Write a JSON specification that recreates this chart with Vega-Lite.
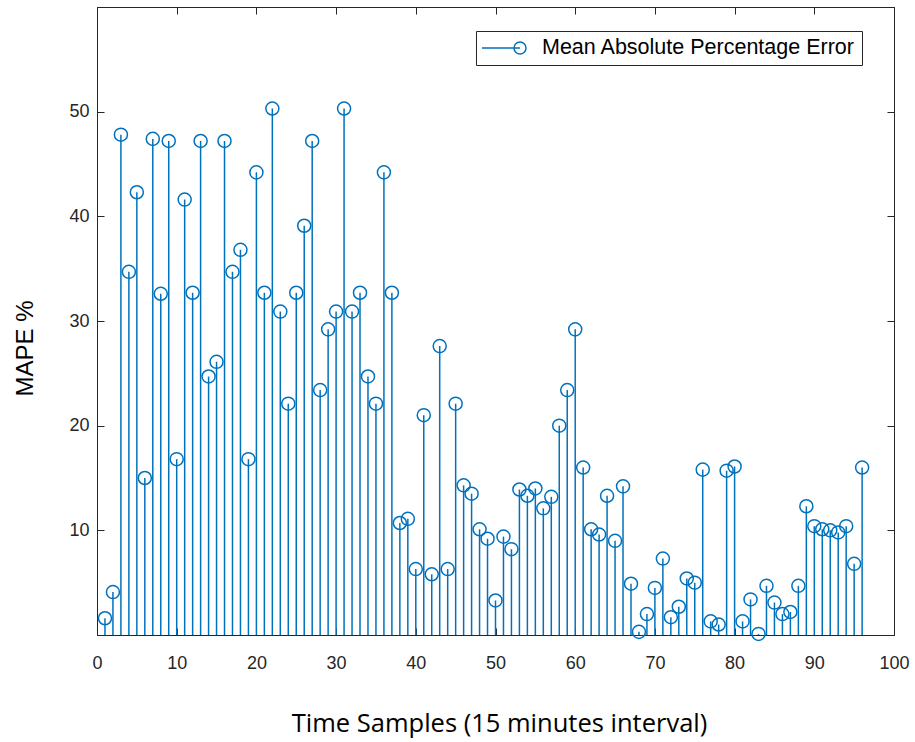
{
  "$schema": "https://vega.github.io/schema/vega-lite/v6.json",
  "width": 797,
  "height": 628,
  "autosize": {"type": "none"},
  "padding": {"left": 97, "top": 7, "right": 21, "bottom": 107},
  "background": "white",
  "config": {
    "view": {"stroke": "#262626", "strokeWidth": 1},
    "axis": {
      "grid": false,
      "domainColor": "#262626",
      "tickColor": "#262626",
      "labelColor": "#262626",
      "titleColor": "#262626",
      "labelFont": "Liberation Sans",
      "labelFontSize": 18,
      "labelFontWeight": "normal",
      "labelFlush": false,
      "labelOverlap": false,
      "tickSize": -7,
      "tickWidth": 1,
      "domainWidth": 1
    }
  },
  "data": {
    "values": [
      {"t": 1, "mape": 1.6}, {"t": 2, "mape": 4.1}, {"t": 3, "mape": 47.8}, {"t": 4, "mape": 34.7},
      {"t": 5, "mape": 42.3}, {"t": 6, "mape": 15.0}, {"t": 7, "mape": 47.4}, {"t": 8, "mape": 32.6},
      {"t": 9, "mape": 47.2}, {"t": 10, "mape": 16.8}, {"t": 11, "mape": 41.6}, {"t": 12, "mape": 32.7},
      {"t": 13, "mape": 47.2}, {"t": 14, "mape": 24.7}, {"t": 15, "mape": 26.1}, {"t": 16, "mape": 47.2},
      {"t": 17, "mape": 34.7}, {"t": 18, "mape": 36.8}, {"t": 19, "mape": 16.8}, {"t": 20, "mape": 44.2},
      {"t": 21, "mape": 32.7}, {"t": 22, "mape": 50.3}, {"t": 23, "mape": 30.9}, {"t": 24, "mape": 22.1},
      {"t": 25, "mape": 32.7}, {"t": 26, "mape": 39.1}, {"t": 27, "mape": 47.2}, {"t": 28, "mape": 23.4},
      {"t": 29, "mape": 29.2}, {"t": 30, "mape": 30.9}, {"t": 31, "mape": 50.3}, {"t": 32, "mape": 30.9},
      {"t": 33, "mape": 32.7}, {"t": 34, "mape": 24.7}, {"t": 35, "mape": 22.1}, {"t": 36, "mape": 44.2},
      {"t": 37, "mape": 32.7}, {"t": 38, "mape": 10.7}, {"t": 39, "mape": 11.1}, {"t": 40, "mape": 6.3},
      {"t": 41, "mape": 21.0}, {"t": 42, "mape": 5.8}, {"t": 43, "mape": 27.6}, {"t": 44, "mape": 6.3},
      {"t": 45, "mape": 22.1}, {"t": 46, "mape": 14.3}, {"t": 47, "mape": 13.5}, {"t": 48, "mape": 10.1},
      {"t": 49, "mape": 9.2}, {"t": 50, "mape": 3.3}, {"t": 51, "mape": 9.4}, {"t": 52, "mape": 8.2},
      {"t": 53, "mape": 13.9}, {"t": 54, "mape": 13.3}, {"t": 55, "mape": 14.0}, {"t": 56, "mape": 12.1},
      {"t": 57, "mape": 13.2}, {"t": 58, "mape": 20.0}, {"t": 59, "mape": 23.4}, {"t": 60, "mape": 29.2},
      {"t": 61, "mape": 16.0}, {"t": 62, "mape": 10.1}, {"t": 63, "mape": 9.6}, {"t": 64, "mape": 13.3},
      {"t": 65, "mape": 9.0}, {"t": 66, "mape": 14.2}, {"t": 67, "mape": 4.9}, {"t": 68, "mape": 0.3},
      {"t": 69, "mape": 2.0}, {"t": 70, "mape": 4.5}, {"t": 71, "mape": 7.3}, {"t": 72, "mape": 1.7},
      {"t": 73, "mape": 2.7}, {"t": 74, "mape": 5.4}, {"t": 75, "mape": 5.0}, {"t": 76, "mape": 15.8},
      {"t": 77, "mape": 1.3}, {"t": 78, "mape": 1.0}, {"t": 79, "mape": 15.7}, {"t": 80, "mape": 16.1},
      {"t": 81, "mape": 1.3}, {"t": 82, "mape": 3.4}, {"t": 83, "mape": 0.1}, {"t": 84, "mape": 4.7},
      {"t": 85, "mape": 3.1}, {"t": 86, "mape": 2.0}, {"t": 87, "mape": 2.2}, {"t": 88, "mape": 4.7},
      {"t": 89, "mape": 12.3}, {"t": 90, "mape": 10.4}, {"t": 91, "mape": 10.1}, {"t": 92, "mape": 10.0},
      {"t": 93, "mape": 9.8}, {"t": 94, "mape": 10.4}, {"t": 95, "mape": 6.8}, {"t": 96, "mape": 16.0}
    ]
  },
  "layer": [
    {
      "mark": {"type": "rule", "color": "#0072BD", "strokeWidth": 1.5},
      "encoding": {
        "x": {
          "field": "t", "type": "quantitative",
          "scale": {"domain": [0, 100], "nice": false},
          "axis": {
            "orient": "bottom",
            "values": [0, 10, 20, 30, 40, 50, 60, 70, 80, 90, 100],
            "labelPadding": 26,
            "title": "Time Samples (15 minutes interval)",
            "titleFont": "Open Sans",
            "titleFontSize": 25.5,
            "titleFontWeight": "normal",
            "titleColor": "#000000",
            "titleBaseline": "middle",
            "titleY": 88,
            "titleX": 402
          }
        },
        "y": {
          "field": "mape", "type": "quantitative",
          "scale": {"domain": [0, 60], "nice": false},
          "axis": {
            "orient": "left",
            "values": [10, 20, 30, 40, 50],
            "labelPadding": 15,
            "title": "MAPE %",
            "titleFont": "Liberation Sans",
            "titleFontSize": 24,
            "titleFontWeight": "normal",
            "titleColor": "#000000",
            "titleAngle": -90,
            "titleAlign": "center",
            "titleBaseline": "middle",
            "titleX": -72,
            "titleY": 341
          }
        },
        "y2": {"datum": 0}
      }
    },
    {
      "mark": {"type": "point", "shape": "circle", "filled": false, "size": 170, "strokeWidth": 1.5, "opacity": 1},
      "encoding": {
        "x": {
          "field": "t", "type": "quantitative",
          "scale": {"domain": [0, 100], "nice": false},
          "axis": {"orient": "top", "values": [0, 10, 20, 30, 40, 50, 60, 70, 80, 90, 100], "labels": false, "title": null}
        },
        "y": {
          "field": "mape", "type": "quantitative",
          "scale": {"domain": [0, 60], "nice": false},
          "axis": {"orient": "right", "values": [10, 20, 30, 40, 50], "labels": false, "title": null}
        },
        "color": {
          "datum": "Mean Absolute Percentage Error",
          "scale": {"range": ["#0072BD"]},
          "legend": {
            "orient": "none",
            "legendX": 379,
            "legendY": 24,
            "title": null,
            "symbolType": "M-1.1,0H2.7M3.3,0A0.6,0.6,0,1,0,2.1,0A0.6,0.6,0,1,0,3.3,0",
            "symbolSize": 400,
            "symbolStrokeWidth": 1.5,
            "symbolStrokeColor": "#0072BD",
            "symbolFillColor": "transparent",
            "labelFont": "Liberation Sans",
            "labelFontSize": 21.5,
            "labelColor": "#000000",
            "labelOffset": 38,
            "labelLimit": 0,
            "padding": 6,
            "strokeColor": "#262626",
            "fillColor": "white",
            "cornerRadius": 0
          }
        }
      }
    }
  ],
  "resolve": {"axis": {"x": "independent", "y": "independent"}}
}
